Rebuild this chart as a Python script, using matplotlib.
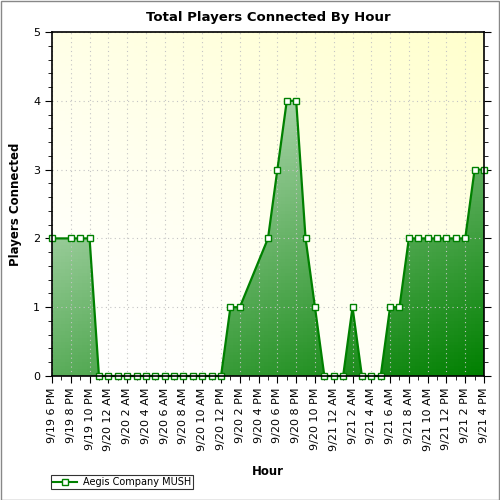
import numpy as np
import matplotlib.pyplot as plt
from matplotlib.patches import Polygon, Rectangle
from matplotlib.lines import Line2D

# hours since 9/19 6 PM, players connected
hours = [0, 2, 3, 4, 5, 6, 7, 8, 9, 10, 11, 12, 13, 14, 15, 16, 17, 18,
         19, 20, 23, 24, 25, 26, 27, 28, 29, 30, 31, 32, 33, 34, 35,
         36, 37, 38, 39, 40, 41, 42, 43, 44, 45, 46]
players = [2, 2, 2, 2, 0, 0, 0, 0, 0, 0, 0, 0, 0, 0, 0, 0, 0, 0,
           1, 1, 2, 3, 4, 4, 2, 1, 0, 0, 0, 1, 0, 0, 0,
           1, 1, 2, 2, 2, 2, 2, 2, 2, 3, 3]
tick_labels = ["9/19 6 PM", "9/19 8 PM", "9/19 10 PM", "9/20 12 AM", "9/20 2 AM",
               "9/20 4 AM", "9/20 6 AM", "9/20 8 AM", "9/20 10 AM", "9/20 12 PM",
               "9/20 2 PM", "9/20 4 PM", "9/20 6 PM", "9/20 8 PM", "9/20 10 PM",
               "9/21 12 AM", "9/21 2 AM", "9/21 4 AM", "9/21 6 AM", "9/21 8 AM",
               "9/21 10 AM", "9/21 12 PM", "9/21 2 PM", "9/21 4 PM"]

fig = plt.figure(figsize=(5, 5), dpi=100)
fig.patches.append(Rectangle((0.001, 0.001), 0.997, 0.997, transform=fig.transFigure,
                             fill=False, ec="#888888", lw=1))
ax = fig.add_axes([0.104, 0.248, 0.864, 0.688])
x0, x1 = hours[0], hours[-1]
ax.set_xlim(x0, x1)
ax.set_ylim(0, 5)

# background: pale yellow top-right fading to white bottom-left
yy, xx = np.mgrid[0:1:100j, 0:1:100j]
t = np.clip((yy * 0.8 + xx * 0.5) / 1.3, 0, 1) ** 1.5
bg = np.dstack([np.ones_like(t), np.ones_like(t), 1 - 0.2 * t])
ax.imshow(bg, extent=[x0, x1, 0, 5], origin="lower", aspect="auto", zorder=0)

# green gradient area: light at upper-left, dark green at lower-right
g = np.clip(0.55 * xx + 0.75 * (1 - yy / 0.8), 0, 1.3) / 1.3
light = np.array([0.84, 0.92, 0.84])
dark = np.array([0.0, 0.50, 0.0])
img = light[None, None, :] * (1 - g[..., None]) + dark[None, None, :] * g[..., None]
im = ax.imshow(np.clip(img, 0, 1), extent=[x0, x1, 0, 5], origin="lower",
               aspect="auto", zorder=1)
poly = Polygon(list(zip([hours[0]] + hours + [hours[-1]], [0] + players + [0])),
               closed=True, transform=ax.transData, fc="none", ec="none")
ax.add_patch(poly)
im.set_clip_path(poly)

ax.plot(hours, players, color="#008000", lw=1.6, marker="s", ms=4.5,
        mfc="white", mec="#008000", mew=1, zorder=3, clip_on=False)

ax.set_xticks(range(0, 47, 2))
ax.set_xticks(range(0, 47), minor=True)
ax.set_xticklabels(tick_labels, rotation=90, fontsize=8)
ax.set_yticks(range(6))
ax.set_yticks(np.arange(0, 5.01, 0.2), minor=True)
ax.tick_params(axis="y", which="both", direction="out", right=True, labelsize=8)
ax.tick_params(axis="y", which="major", length=5)
ax.tick_params(axis="y", which="minor", length=3)
ax.tick_params(axis="x", which="major", length=5)
ax.tick_params(axis="x", which="minor", length=3)
ax.grid(True, which="major", color="#c4c4c4", ls=(0, (1, 3)), lw=0.8, zorder=2)
ax.set_axisbelow(False)
for s in ax.spines.values():
    s.set_linewidth(1.2)
    s.set_zorder(4)

ax.set_title("Total Players Connected By Hour", fontsize=9.5, fontweight="bold", pad=8)
ax.set_xlabel("Hour", fontsize=8.5, fontweight="bold", labelpad=10)
ax.set_ylabel("Players Connected", fontsize=8.5, fontweight="bold", labelpad=8)

h = Line2D([], [], color="#008000", lw=1.5, marker="s", ms=4.5, mfc="white", mec="#008000")
leg = fig.legend([h], ["Aegis Company MUSH"], loc="lower left",
                 bbox_to_anchor=(0.092, 0.012), fontsize=7, frameon=True,
                 fancybox=False, edgecolor="black", handlelength=2.5,
                 borderpad=0.2, handletextpad=0.6)
leg.get_frame().set_linewidth(0.8)

fig.savefig("out.png", dpi=100)
